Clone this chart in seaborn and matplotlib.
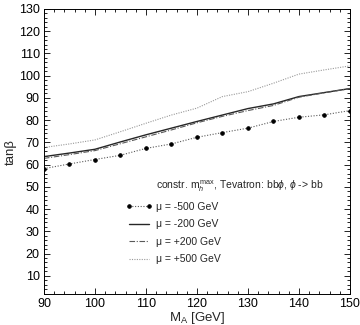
import numpy as np
import pandas as pd
import matplotlib
matplotlib.use("Agg")
import matplotlib.pyplot as plt
import seaborn as sns
from matplotlib.ticker import MultipleLocator
from matplotlib.lines import Line2D

# ---- data ----
m_a = [90, 95, 100, 105, 110, 115, 120, 125, 130, 135, 140, 145, 150]
mu_m500 = [58.2, 60.3, 62.3, 64.2, 67.3, 69.3, 72.3, 74.4, 76.4, 79.4, 81.3, 82.4, 84.3]
mu_m200 = [63.6, 65.2, 66.9, 70.2, 73.4, 76.4, 79.4, 82.3, 85.2, 87.3, 90.6, 92.4, 94.2]
mu_p200 = [62.8, 64.5, 66.3, 69.4, 72.5, 75.6, 78.8, 81.7, 84.3, 86.6, 90.3, 92.3, 94.2]
mu_p500 = [67.7, 69.3, 71.1, 74.8, 78.6, 82.3, 85.4, 90.6, 92.8, 96.6, 100.7, 102.6, 104.4]
series_labels = ["\u03bc = -500 GeV", "\u03bc = -200 GeV", "\u03bc = +200 GeV", "\u03bc = +500 GeV"]
header = r"constr. m$_h^{\,\mathrm{max}}$, Tevatron: bb$\phi$, $\phi$ -> bb"

df = pd.DataFrame({
    "M_A": m_a * 4,
    "tanb": mu_m500 + mu_m200 + mu_p200 + mu_p500,
    "series": sum([[s] * len(m_a) for s in series_labels], []),
})

sns.set_theme(style="ticks")
plt.rcParams["font.family"] = ["Liberation Sans", "DejaVu Sans"]
plt.rcParams["mathtext.fontset"] = "custom"
plt.rcParams["mathtext.rm"] = "Liberation Sans"
plt.rcParams["mathtext.it"] = "Liberation Sans:italic"

fig = plt.figure(figsize=(3.6, 3.25), dpi=100)
ax = fig.add_axes([0.122, 0.0945, 0.85, 0.878])

styles = {
    series_labels[0]: dict(color="0.35", linestyle=(0, (1, 1.5)), linewidth=0.8,
                           marker="o", markersize=2.5, markerfacecolor="black",
                           markeredgecolor="black"),
    series_labels[1]: dict(color="0.15", linestyle="-", linewidth=1.0),
    series_labels[2]: dict(color="0.35", linestyle=(0, (5, 1.5, 1, 1.5)), linewidth=0.8),
    series_labels[3]: dict(color="0.6", linestyle=(0, (1, 1.2)), linewidth=0.8),
}

for s in series_labels:
    sns.lineplot(data=df[df["series"] == s], x="M_A", y="tanb", ax=ax,
                 label=s, **styles[s])

ax.set_xlim(90, 150)
ax.set_ylim(1.7, 130)
ax.xaxis.set_major_locator(MultipleLocator(10))
ax.xaxis.set_minor_locator(MultipleLocator(2))
ax.yaxis.set_minor_locator(MultipleLocator(2))
ax.set_yticks([10, 20, 30, 40, 50, 60, 70, 80, 90, 100, 110, 120, 130])
ax.tick_params(which="both", direction="in", top=True, right=True,
               labelsize=9, colors="black", width=0.6)
ax.tick_params(which="major", length=4, pad=3)
ax.tick_params(which="minor", length=2)
for sp in ax.spines.values():
    sp.set_visible(True)
    sp.set_linewidth(0.7)
    sp.set_color("black")

ax.set_xlabel("M$_\\mathrm{A}$ [GeV]", fontsize=9.5)
ax.set_ylabel("tan\u03b2", fontsize=9.5)
ax.xaxis.set_label_coords(0.5, -0.055)
ax.yaxis.set_label_coords(-0.09, 0.5)

handles, labels = ax.get_legend_handles_labels()
dummy = Line2D([], [], linestyle="none")
leg = ax.legend([dummy] + handles, [header] + labels, loc="upper left",
                bbox_to_anchor=(0.268, 0.404), frameon=False, fontsize=7.5,
                handlelength=2.5, handletextpad=0.4, labelspacing=0.72,
                borderaxespad=0, borderpad=0, numpoints=2)

fig.savefig("out.png", dpi=100)
